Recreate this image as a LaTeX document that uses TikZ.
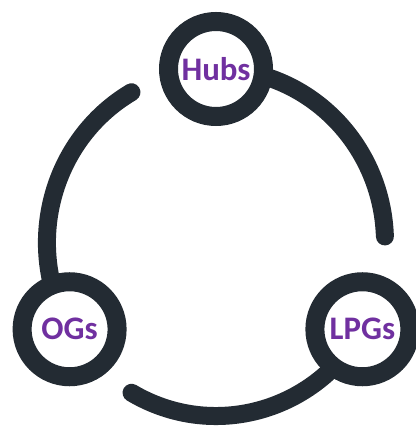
\documentclass[tikz,border=0pt]{standalone}
\usepackage{fontspec}
\setmainfont{Carlito}
\usepackage{xcolor}
\usepackage{tikz}
\usetikzlibrary{backgrounds}
\definecolor{ringdark}{RGB}{35,43,51}
\definecolor{labelpurple}{RGB}{112,48,160}

\begin{document}
\begin{tikzpicture}[x=1bp,y=1bp,
    ring/.style={circle,draw=ringdark,line width=19bp,fill=white,minimum size=95bp,
      inner sep=0pt,text=labelpurple,font=\fontsize{33}{33}\selectfont\bfseries},
    link/.style={draw=ringdark,line width=18bp,line cap=round}]
    \useasboundingbox (0,0) rectangle (416,430);
    \node[ring] (hubs) at (216,361) {Hubs};
    \node[ring] (ogs) at (69.6,100.75) {OGs};
    \node[ring] (lpgs) at (362.4,100.75) {LPGs};
    \begin{scope}[on background layer]
      \draw[link] (hubs.center) arc[start angle=90,end angle=2,x radius=169,y radius=173.5];
      \draw[link] (lpgs.center) arc[start angle=-30,end angle=-120,x radius=169,y radius=173.5];
      \draw[link] (ogs.center) arc[start angle=210,end angle=120,x radius=169,y radius=173.5];
    \end{scope}
  \end{tikzpicture}
\end{document}
